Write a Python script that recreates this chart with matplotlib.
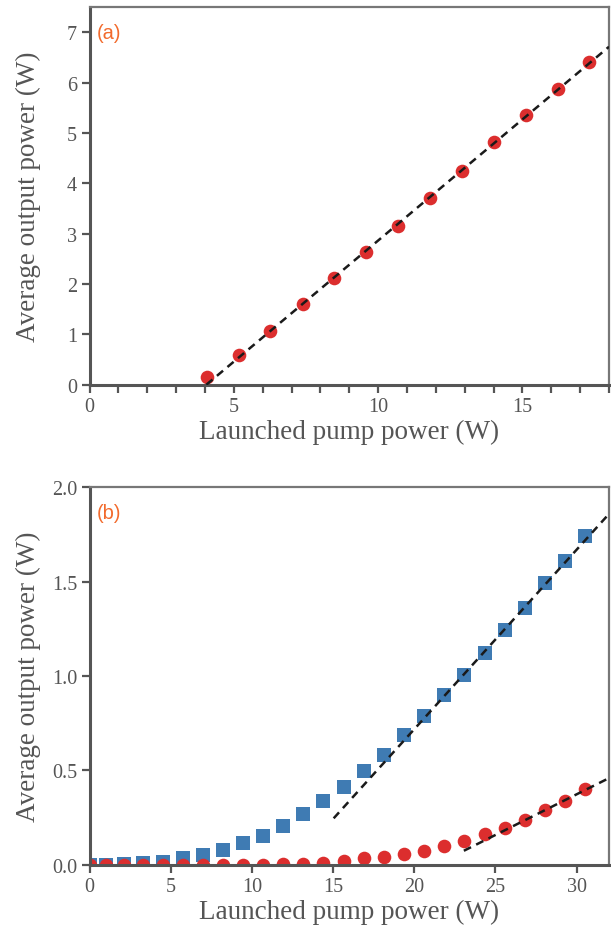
import matplotlib
matplotlib.use("Agg")
import matplotlib.pyplot as plt
from matplotlib.ticker import MultipleLocator, FormatStrFormatter

# panel (a): single output vs pump
pump_a = [4.07, 5.17, 6.27, 7.39, 8.47, 9.59, 10.69, 11.80, 12.91, 14.02, 15.13, 16.22, 17.32]
out_a = [0.16, 0.58, 1.06, 1.60, 2.12, 2.63, 3.16, 3.71, 4.25, 4.81, 5.36, 5.88, 6.41]
fit_a_x = [4.05, 18.0]
fit_a_y = [0.0, 6.71]

# panel (b): two outputs vs pump
pump_b = [0.0, 1.0, 2.1, 3.29, 4.52, 5.74, 6.97, 8.20, 9.43, 10.67, 11.90, 13.13, 14.37,
          15.66, 16.89, 18.13, 19.36, 20.59, 21.83, 23.06, 24.35, 25.59, 26.82, 28.05,
          29.29, 30.52]
out_b_sq = [0.0, 0.0, 0.005, 0.008, 0.014, 0.035, 0.051, 0.078, 0.115, 0.150, 0.203, 0.267,
            0.336, 0.41, 0.498, 0.583, 0.689, 0.790, 0.901, 1.007, 1.120, 1.246, 1.359,
            1.491, 1.608, 1.740]
out_b_ci = [0.0, 0.0, 0.0, 0.0, 0.0, 0.0, 0.0, 0.0, 0.0, 0.0, 0.003, 0.005, 0.01,
            0.021, 0.034, 0.042, 0.055, 0.074, 0.097, 0.127, 0.161, 0.196, 0.239,
            0.290, 0.339, 0.401]
fit_b_sq_x = [15.04, 32.0]
fit_b_sq_y = [0.246, 1.859]
fit_b_ci_x = [23.06, 32.0]
fit_b_ci_y = [0.074, 0.459]

RED = "#dc2e2e"
BLUE = "#3f7bb3"
ORANGE = "#f26a2c"
GREY = "#555555"
DASH = (0, (3.2, 2.3))

plt.rcParams["font.family"] = "Liberation Serif"
plt.rcParams["text.color"] = GREY


def style_axes(ax):
    for side in ["left", "bottom"]:
        ax.spines[side].set_linewidth(2.2)
        ax.spines[side].set_color(GREY)
    for side in ["top", "right"]:
        ax.spines[side].set_linewidth(1.6)
        ax.spines[side].set_color("#777777")
    ax.tick_params(which="both", direction="out", length=6, width=1.6,
                   color=GREY, labelcolor=GREY, labelsize=14.5, pad=3)
    ax.set_xlabel("Launched pump power (W)", fontsize=19.5, color=GREY, labelpad=2)
    ax.set_ylabel("Average output power (W)", fontsize=19.5, color=GREY)
    ax.yaxis.set_label_coords(-0.093, 0.5)


fig = plt.figure(figsize=(6.11, 9.28), dpi=100)

ax1 = fig.add_axes([0.1465, 0.5844, 0.8502, 0.4070])
ax1.plot(pump_a, out_a, "o", color=RED, markersize=9.8, markeredgewidth=0, zorder=2)
ax1.plot(fit_a_x, fit_a_y, color="#1a1a1a", lw=1.8, ls=DASH, zorder=3)
ax1.set_xlim(0, 18)
ax1.set_ylim(0, 7.5)
ax1.xaxis.set_major_locator(MultipleLocator(5))
ax1.xaxis.set_minor_locator(MultipleLocator(1))
ax1.yaxis.set_major_locator(MultipleLocator(1))
style_axes(ax1)
ax1.text(0.014, 0.958, "(a)", transform=ax1.transAxes, color=ORANGE,
         fontsize=14.5, family="Liberation Sans", va="top", ha="left")

ax2 = fig.add_axes([0.1465, 0.0671, 0.8502, 0.4067])
ax2.plot(pump_b, out_b_sq, "s", color=BLUE, markersize=9.5, markeredgewidth=0, zorder=2)
ax2.plot(pump_b, out_b_ci, "o", color=RED, markersize=9.8, markeredgewidth=0, zorder=2)
ax2.plot(fit_b_sq_x, fit_b_sq_y, color="#1a1a1a", lw=1.8, ls=DASH, zorder=3)
ax2.plot(fit_b_ci_x, fit_b_ci_y, color="#1a1a1a", lw=1.8, ls=DASH, zorder=3)
ax2.set_xlim(0, 32)
ax2.set_ylim(0, 2.0)
ax2.xaxis.set_major_locator(MultipleLocator(5))
ax2.yaxis.set_major_locator(MultipleLocator(0.5))
ax2.yaxis.set_major_formatter(FormatStrFormatter("%.1f"))
style_axes(ax2)
ax2.text(0.014, 0.958, "(b)", transform=ax2.transAxes, color=ORANGE,
         fontsize=14.5, family="Liberation Sans", va="top", ha="left")

fig.savefig("out.png", dpi=100)
